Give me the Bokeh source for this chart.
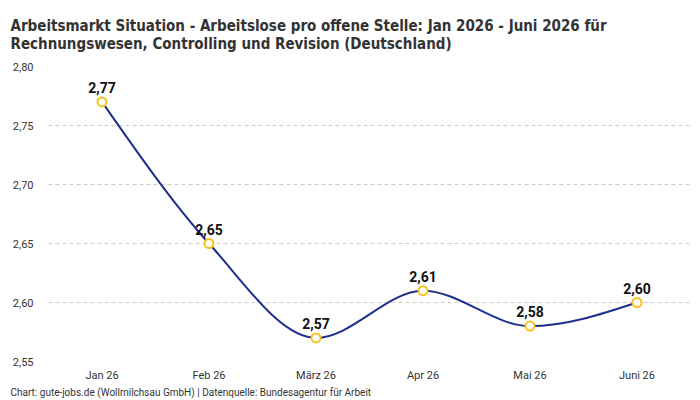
from bokeh.plotting import figure
from bokeh.models import Title, FixedTicker, CustomJSTickFormatter, Range1d, ColumnDataSource, LabelSet
from bokeh.core.properties import value
from bokeh.embed import file_html
from bokeh.resources import INLINE

months = ["Jan 26", "Feb 26", "März 26", "Apr 26", "Mai 26", "Juni 26"]
values = [2.77, 2.65, 2.57, 2.61, 2.58, 2.60]
y_ticks = [2.55, 2.60, 2.65, 2.70, 2.75, 2.80]
title_lines = ["Arbeitsmarkt Situation - Arbeitslose pro offene Stelle: Jan 2026 - Juni 2026 für",
               "Rechnungswesen, Controlling und Revision (Deutschland)"]
footer = "Chart: gute-jobs.de (Wollmilchsau GmbH) | Datenquelle: Bundesagentur für Arbeit"

xs = list(range(len(values)))

# monotone cubic (d3 curveMonotoneX style) tangents
n = len(values)
sl = [(values[i + 1] - values[i]) / (xs[i + 1] - xs[i]) for i in range(n - 1)]
def sgn(v):
    return (v > 0) - (v < 0)
t = [0.0] * n
for i in range(1, n - 1):
    s0, s1 = sl[i - 1], sl[i]
    h0, h1 = xs[i] - xs[i - 1], xs[i + 1] - xs[i]
    pp = (s0 * h1 + s1 * h0) / (h0 + h1)
    t[i] = (sgn(s0) + sgn(s1)) * min(abs(s0), abs(s1), 0.5 * abs(pp))
t[0] = (3 * sl[0] - t[1]) / 2
t[-1] = (3 * sl[-1] - t[-2]) / 2

bz = dict(x0=[], y0=[], x1=[], y1=[], cx0=[], cy0=[], cx1=[], cy1=[])
for i in range(n - 1):
    h = xs[i + 1] - xs[i]
    bz["x0"].append(xs[i]); bz["y0"].append(values[i])
    bz["x1"].append(xs[i + 1]); bz["y1"].append(values[i + 1])
    bz["cx0"].append(xs[i] + h / 3); bz["cy0"].append(values[i] + h / 3 * t[i])
    bz["cx1"].append(xs[i + 1] - h / 3); bz["cy1"].append(values[i + 1] - h / 3 * t[i + 1])

p = figure(width=700, height=400, output_backend="svg", toolbar_location=None,
           x_range=Range1d(-0.5, len(values) - 0.5), y_range=Range1d(2.55, 2.80),
           min_border_left=48, min_border_right=10, min_border_top=66, min_border_bottom=39)
p.outline_line_color = None
p.background_fill_color = "white"
p.border_fill_color = "white"

p.xgrid.grid_line_color = None
p.ygrid.grid_line_color = "#cccccc"
p.ygrid.grid_line_dash = "4 3"
p.ygrid.grid_line_width = 1

p.yaxis.ticker = FixedTicker(ticks=y_ticks)
p.yaxis.formatter = CustomJSTickFormatter(code="return tick.toFixed(2).replace('.', ',');")
p.xaxis.ticker = FixedTicker(ticks=xs)
p.xaxis.major_label_overrides = {i: m for i, m in enumerate(months)}
for ax in (p.xaxis, p.yaxis):
    ax.axis_line_color = None
    ax.major_tick_line_color = None
    ax.minor_tick_line_color = None
    ax.major_label_text_font = "Roboto"
    ax.major_label_text_font_size = "11px"
    ax.major_label_text_color = "#333333"
p.yaxis.major_label_standoff = 9
p.xaxis.major_label_standoff = 1

p.bezier(source=ColumnDataSource(bz), x0="x0", y0="y0", x1="x1", y1="y1",
         cx0="cx0", cy0="cy0", cx1="cx1", cy1="cy1",
         line_color="#1f2f8c", line_width=2)

src = ColumnDataSource(dict(x=xs, y=values, lab=[f"{v:.2f}".replace(".", ",") for v in values]))
p.scatter("x", "y", source=src, size=9, fill_color="white", line_color="#f7c21a", line_width=2)
p.add_layout(LabelSet(x="x", y="y", text="lab", source=src, text_align="center",
                      text_baseline="bottom", y_offset=9, text_font=value("Roboto"),
                      text_font_style="bold", text_font_size="14px", text_color="#111111"))

p.add_layout(Title(text="\n".join(title_lines), align="left", offset=-38, standoff=24,
                   vertical_align="top",
                   text_font="DejaVu Sans Condensed", text_font_style="bold",
                   text_font_size="15px", text_color="#333333"), "above")
p.add_layout(Title(text=footer, align="left", offset=-38, standoff=0,
                   text_font="Roboto", text_font_style="normal",
                   text_font_size="10px", text_color="#333333"), "below")

open("out.html", "w").write(file_html(p, INLINE))
